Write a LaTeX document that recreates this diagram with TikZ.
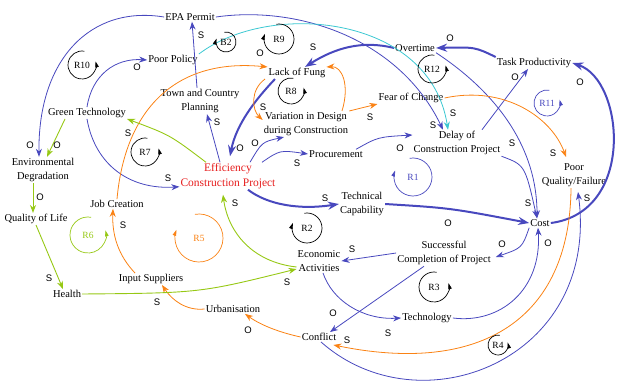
\documentclass[tikz,border=0pt]{standalone}
\usepackage{fontspec}
\setmainfont{Liberation Serif}
\setsansfont{Liberation Sans}
\usepackage{xcolor}
\usetikzlibrary{arrows.meta}

\definecolor{cldblue}{RGB}{72,72,190}
\definecolor{cldorange}{RGB}{250,130,20}
\definecolor{cldgreen}{RGB}{150,200,20}
\definecolor{cldcyan}{RGB}{60,200,210}
\definecolor{cldred}{RGB}{230,30,30}

% loop marks: #1 name, #2 centre, #3 radius, #4 text, #5 colour
\newcommand{\loopright}[5]{%
  \draw[#5, line width=0.7pt, -{Triangle[length=6pt,width=3.5pt]}] #2 ++(80:#3) arc[start angle=80, end angle=375, radius=#3];
  \node[loopname, #5] (#1) at #2 {#4};}
\newcommand{\loopleft}[5]{%
  \draw[#5, line width=0.7pt, -{Triangle[length=6pt,width=3.5pt]}] #2 ++(100:#3) arc[start angle=100, end angle=-200, radius=#3];
  \node[loopname, #5] (#1) at #2 {#4};}

\begin{document}
\begin{tikzpicture}[x=1pt, y=-1pt,
    cvar/.style={font=\fontsize{10.5}{14.5}\selectfont, inner sep=1pt, align=center},
    pol/.style={font=\sffamily\fontsize{9.5}{10}\selectfont, inner sep=0pt},
    loopname/.style={font=\fontsize{9.5}{10}\selectfont, inner sep=0pt},
    link/.style={cldblue, line width=0.8pt, -{Stealth[length=8pt,width=6pt]}},
    mainlink/.style={cldblue, line width=2pt, -{Stealth[length=11pt,width=8pt]}},
    olink/.style={cldorange, line width=0.8pt, -{Stealth[length=8pt,width=6pt]}},
    glink/.style={cldgreen, line width=0.9pt, -{Stealth[length=8pt,width=6pt]}},
    clink/.style={cldcyan, line width=0.8pt, -{Stealth[length=8pt,width=6pt]}}]
    \useasboundingbox (0,0) rectangle (617,382);

    % Variables
    \node[cvar] (epa) at (190,17) {EPA Permit};
    \node[cvar] (policy) at (173,60) {Poor Policy};
    \node[cvar] (planning) at (200,101) {Town and Country\\Planning};
    \node[cvar] (fung) at (297,73) {Lack of Fung};
    \node[cvar] (variation) at (306,124) {Variation in Design\\during Construction};
    \node[cvar] (fear) at (411,98) {Fear of Change};
    \node[cvar] (overtime) at (415,48) {Overtime};
    \node[cvar] (taskprod) at (534,63) {Task Productivity};
    \node[cvar] (delay) at (457,143) {Delay of\\Construction Project};
    \node[cvar] (greentech) at (87,113) {Green Technology};
    \node[cvar] (envdeg) at (43,170) {Environmental\\Degradation};
    \node[cvar] (life) at (36,219) {Quality of Life};
    \node[cvar] (health) at (67,294) {Health};
    \node[cvar] (jobs) at (117,204) {Job Creation};
    \node[cvar] (suppliers) at (151,279) {Input Suppliers};
    \node[cvar] (urban) at (233,309) {Urbanisation};
    \node[cvar] (conflict) at (319,337) {Conflict};
    \node[cvar] (techno) at (427,318) {Technology};
    \node[cvar] (success) at (444,253) {Successful\\Completion of Project};
    \node[cvar] (econ) at (319,261) {Economic\\Activities};
    \node[cvar] (techcap) at (362,204) {Technical\\Capability};
    \node[cvar] (procure) at (336,154) {Procurement};
    \node[cvar, text=cldred, font=\fontsize{11.5}{14.5}\selectfont] (eff) at (228,176) {Efficiency\\Construction Project};
    \node[cvar] (cost) at (540,223) {Cost};
    \node[cvar] (quality) at (574,175) {Poor\\Quality/Failure};

    % Blue links
    \draw[link] (epa.west) .. controls (90,5) and (38,60) .. ([xshift=-4pt]envdeg.north);
    \draw[link] (epa.east) .. controls (300,5) and (400,40) .. ([xshift=-14pt]delay.north);
    \draw[link] ([xshift=-3pt]planning.north) -- ([xshift=2pt]epa.south);
    \draw[link] ([xshift=-8pt]eff.north) -- ([xshift=7pt]planning.south);
    \draw[link] (greentech.north) .. controls (92,75) and (115,58) .. (policy.west);
    \draw[link] (greentech.south) .. controls (95,165) and (130,190) .. ([yshift=3pt]eff.south west);
    \draw[link] ([xshift=22pt]eff.north) .. controls (262,142) .. ([xshift=-22pt]variation.south);
    \draw[link] ([xshift=34pt]eff.north) .. controls (280,150) .. (procure.west);
    \draw[link] ([xshift=20pt]procure.north) .. controls (378,137) .. ([yshift=8pt]delay.west);
    \draw[link] (overtime.south east) .. controls (500,95) and (537,150) .. ([xshift=-3pt]cost.north);
    \draw[link] (delay.south east) .. controls (525,165) .. ([xshift=-3pt]cost.north);
    \draw[link] ([xshift=25pt]delay.north) -- ([xshift=-6pt]taskprod.south);
    \draw[link] (techno.east) .. controls (500,324) and (542,290) .. ([xshift=-2pt]cost.south);
    \draw[link] (cost.south west) .. controls (522,248) .. ([xshift=4pt,yshift=-4pt]success.east);
    \draw[link] (success.west) -- (econ.east);
    \draw[link] ([xshift=-20pt]success.south) -- ([xshift=11pt]conflict.north);
    \draw[link] ([xshift=4pt]econ.south) .. controls (332,300) and (362,320) .. (techno.west);
    \draw[link] ([xshift=2pt]conflict.south) .. controls (420,430) and (600,360) .. ([xshift=4pt,yshift=-4pt]quality.south);

    % Main loop (thick)
    \draw[mainlink] ([xshift=-22pt]fung.south) .. controls (255,100) and (236,125) .. ([xshift=2pt,yshift=6pt]eff.north);
    \draw[mainlink] ([xshift=20pt]eff.south) .. controls (268,205) and (300,210) .. (techcap.west);
    \draw[mainlink] (techcap.east) .. controls (450,208) .. (cost.west);
    \draw[mainlink] (cost.east) .. controls (636,212) and (624,80) .. (taskprod.east);
    \draw[mainlink] (taskprod.north west) .. controls (475,47) .. (overtime.east);
    \draw[mainlink] (overtime.west) .. controls (362,40) and (335,48) .. ([xshift=8pt]fung.north);

    % Cyan link
    \draw[clink] (policy.north east) .. controls (270,0) and (430,15) .. ([xshift=-9pt]delay.north);

    % Orange links
    \draw[olink] (conflict.west) .. controls (282,333) and (262,326) .. ([xshift=12pt]urban.south);
    \draw[olink] (urban.west) .. controls (186,311) and (172,300) .. ([xshift=11pt]suppliers.south);
    \draw[olink] ([xshift=-16pt]suppliers.north) .. controls (118,255) and (112,235) .. ([xshift=-4pt]jobs.south);
    \draw[olink] (jobs.north) .. controls (125,110) and (175,58) .. (fung.north west);
    \draw[olink] ([xshift=-32pt]fung.south) .. controls (250,90) and (252,110) .. ([yshift=4pt]variation.west);
    \draw[olink] ([xshift=36pt]variation.north) .. controls (350,85) and (342,66) .. (fung.north east);
    \draw[olink] (variation.north east) -- (fear.south west);
    \draw[olink] (fear.east) .. controls (505,85) and (552,118) .. ([xshift=-8pt,yshift=5pt]quality.north);
    \draw[olink] ([xshift=-3pt]quality.south) .. controls (570,320) and (480,375) .. ([xshift=-4pt,yshift=-3pt]conflict.south east);

    % Green links
    \draw[glink] ([xshift=-22pt]eff.north) .. controls (170,135) .. (greentech.south east);
    \draw[glink] ([xshift=-22pt]greentech.south) -- ([xshift=4pt]envdeg.north);
    \draw[glink] ([xshift=-10pt]envdeg.south) -- ([xshift=-3pt]life.north);
    \draw[glink] (life.south) -- ([xshift=-4pt]health.north);
    \draw[glink] (health.east) .. controls (200,293) .. ([yshift=-8pt]econ.west);
    \draw[glink] ([yshift=-6pt]econ.west) .. controls (252,262) and (228,232) .. ([xshift=-5pt,yshift=-5pt]eff.south);

    % Polarities
    \foreach \px/\py/\ps [count=\k] in {30/145/O, 57/145/O, 40/197/O, 49/278/S, 157/302/S,
        123/225/S, 128/133/S, 168/178/S, 137/67/O, 201/35/S, 217/122/S, 260/53/O,
        313/47/S, 263/107/S, 370/117/S, 240/148/O, 255/143/O, 297/163/S, 400/148/O,
        235/203/S, 325/198/S, 433/125/S, 453/113/S, 450/38/O, 515/77/O, 580/82/O,
        512/143/S, 553/153/S, 528/203/S, 448/223/O, 587/198/S, 502/244/O, 548/243/O,
        352/249/S, 287/282/S, 333/313/O, 248/330/O, 347/340/S, 388/333/S}
        \node[pol] (pol\k) at (\px,\py) {\ps};

    % Loops
    \loopright{r10}{(82,65)}{14pt}{R10}{black}
    \loopleft{b2}{(226,42)}{10pt}{B2}{black}
    \loopleft{r9}{(279,39)}{15pt}{R9}{black}
    \loopright{r8}{(291,91)}{13pt}{R8}{black}
    \loopright{r12}{(432,69)}{14pt}{R12}{black}
    \loopright{r11}{(547,103)}{13pt}{R11}{cldblue}
    \loopright{r7}{(145,152)}{14pt}{R7}{black}
    \loopleft{r1}{(413,177)}{19pt}{R1}{cldblue}
    \loopright{r6}{(88,235)}{18pt}{R6}{cldgreen}
    \loopleft{r5}{(199,238)}{24pt}{R5}{cldorange}
    \loopleft{r2}{(307,228)}{15pt}{R2}{black}
    \loopright{r3}{(434,287)}{15pt}{R3}{black}
    \loopright{r4}{(498,345)}{10pt}{R4}{black}
\end{tikzpicture}
\end{document}
